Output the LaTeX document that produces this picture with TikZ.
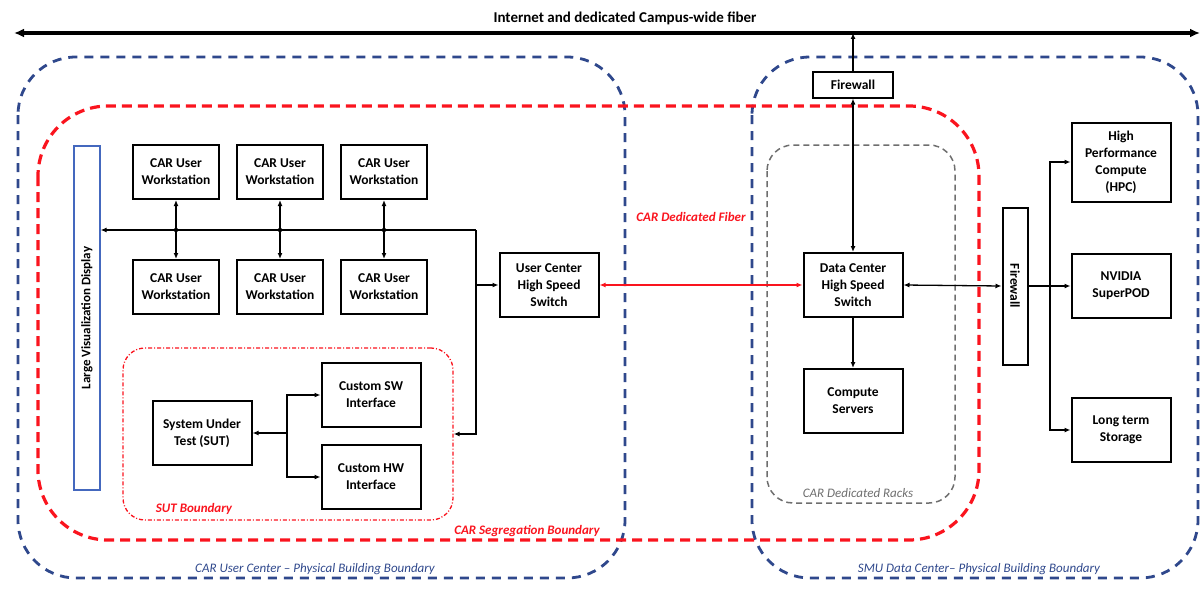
\documentclass[tikz,border=0pt]{standalone}
\usepackage{fontspec}
\setmainfont{Carlito}
\usetikzlibrary{arrows.meta, positioning, calc}

\definecolor{bldblue}{RGB}{47,72,140}
\definecolor{segred}{RGB}{250,20,30}
\definecolor{dispblue}{RGB}{68,104,190}
\definecolor{rackgray}{RGB}{110,110,110}

\tikzset{
  box/.style={draw, line width=2pt, minimum width=99, minimum height=64, align=center,
    inner sep=1pt, font=\bfseries\fontsize{13.5}{17}\selectfont},
  wsbox/.style={box, minimum width=86, minimum height=54},
  conn/.style={line width=1.3pt},
  bldbound/.style={draw=bldblue, line width=2.8pt, dash pattern=on 9pt off 7pt, rounded corners=58},
  segbound/.style={draw=segred, line width=3.2pt, dash pattern=on 10pt off 6pt, rounded corners=70},
  rackbound/.style={draw=rackgray, line width=1.5pt, dash pattern=on 6pt off 4pt, rounded corners=26},
  sutbound/.style={draw=segred, line width=1.3pt, dash pattern=on 4pt off 2pt on 1pt off 2pt, rounded corners=22},
  boundlabel/.style={font=\itshape\fontsize{13}{15}\selectfont},
}

\begin{document}
\begin{tikzpicture}[x=1pt, y=-1pt, >={Latex[length=6pt,width=5pt]}]
  \useasboundingbox (0,0) rectangle (1202,602);

  % physical and logical boundaries
  \draw[bldbound] (18,57) rectangle (625,578);
  \draw[bldbound] (752,57) rectangle (1198,578);
  \draw[segbound] (38,106) rectangle (979,540);
  \draw[rackbound] (767,145) rectangle (955,503);
  \node[sutbound, minimum width=330, minimum height=172] (sutb) at (288,434) {};

  \node[boundlabel, text=bldblue] at (315,569) {CAR User Center -- Physical Building Boundary};
  \node[boundlabel, text=bldblue] at (979,569) {SMU Data Center-- Physical Building Boundary};
  \node[boundlabel, text=segred, font=\bfseries\itshape\fontsize{13}{15}\selectfont] at (527,531) {CAR Segregation Boundary};
  \node[boundlabel, text=rackgray] at (858,493) {CAR Dedicated Racks};
  \node[boundlabel, text=segred, font=\bfseries\itshape\fontsize{13}{15}\selectfont] at (194,509) {SUT Boundary};
  \node[boundlabel, text=segred, font=\bfseries\itshape\fontsize{13}{15}\selectfont] at (691,217) {CAR Dedicated Fiber};

  % internet backbone
  \coordinate (netl) at (14,33);
  \coordinate (netr) at (1200,33);
  \draw[line width=3.8pt, {Latex[length=10pt,width=9pt]}-{Latex[length=10pt,width=9pt]}] (netl) -- (netr);
  \node[font=\bfseries\fontsize{15}{18}\selectfont] (nettxt) at (625,18) {Internet and dedicated Campus-wide fiber};

  % user center
  \node[draw=dispblue, line width=1.2pt, rotate=90, minimum width=344, minimum height=26,
    inner sep=1pt, font=\bfseries\fontsize{13}{15}\selectfont] (lvd) at (87,318) {Large Visualization Display};

  \node[wsbox] (ws1) at (176,172) {CAR User\\Workstation};
  \node[wsbox] (ws2) at (280,172) {CAR User\\Workstation};
  \node[wsbox] (ws3) at (384,172) {CAR User\\Workstation};
  \node[wsbox] (ws4) at (176,287) {CAR User\\Workstation};
  \node[wsbox] (ws5) at (280,287) {CAR User\\Workstation};
  \node[wsbox] (ws6) at (384,287) {CAR User\\Workstation};

  \node[box] (ucs) at (549,285) {User Center\\High Speed\\Switch};

  \node[box] (sut) at (202,433) {System Under\\Test (SUT)};
  \node[box] (sw) at (371,395) {Custom SW\\Interface};
  \node[box] (hw) at (371,477) {Custom HW\\Interface};

  % data center
  \node[box, minimum width=80, minimum height=25] (fw1) at (853,85) {Firewall};
  \node[box] (dcs) at (853,285) {Data Center\\High Speed\\Switch};
  \node[box] (cs) at (853,401) {Compute\\Servers};
  \node[box, rotate=-90, minimum width=157, minimum height=25] (fw2) at (1015,286) {Firewall};
  \node[box, minimum height=79] (hpc) at (1121,162) {High\\Performance\\Compute\\(HPC)};
  \node[box] (nv) at (1121,286) {NVIDIA\\SuperPOD};
  \node[box] (lts) at (1121,430) {Long term\\Storage};

  % user center wiring
  \coordinate (bus) at (476,230);
  \draw[conn, ->] (bus) -- (bus -| lvd.south);
  \draw[conn, ->] (bus) |- (sutb.east);
  \draw[conn, ->] (bus |- ucs.west) -- (ucs.west);
  \draw[conn, <->] (ws1) -- (ws4);
  \draw[conn, <->] (ws2) -- (ws5);
  \draw[conn, <->] (ws3) -- (ws6);
  \fill (ws1 |- bus) circle (2.2);
  \fill (ws2 |- bus) circle (2.2);
  \fill (ws3 |- bus) circle (2.2);

  \coordinate (sj) at (287,433);
  \draw[conn, ->] (sj) -- (sut.east);
  \draw[conn, ->] (sj) |- (sw.west);
  \draw[conn, ->] (sj) |- (hw.west);

  % fiber link
  \draw[segred, line width=2.2pt, <->] (ucs.east) -- (dcs.west);

  % data center wiring
  \draw[conn, ->] (fw1.north) -- (fw1.north |- netl);
  \draw[conn, <->] (dcs.north) -- (fw1.south);
  \draw[conn, ->] (dcs.south) -- (cs.north);
  \draw[conn, <->] (dcs.east) -- (fw2.south);
  \draw[conn, ->] (fw2.north) -- (nv.west);
  \coordinate (hub) at (1050,286);
  \draw[conn, ->] (hub) |- (hpc.west);
  \draw[conn, ->] (hub) |- (lts.west);
\end{tikzpicture}
\end{document}
